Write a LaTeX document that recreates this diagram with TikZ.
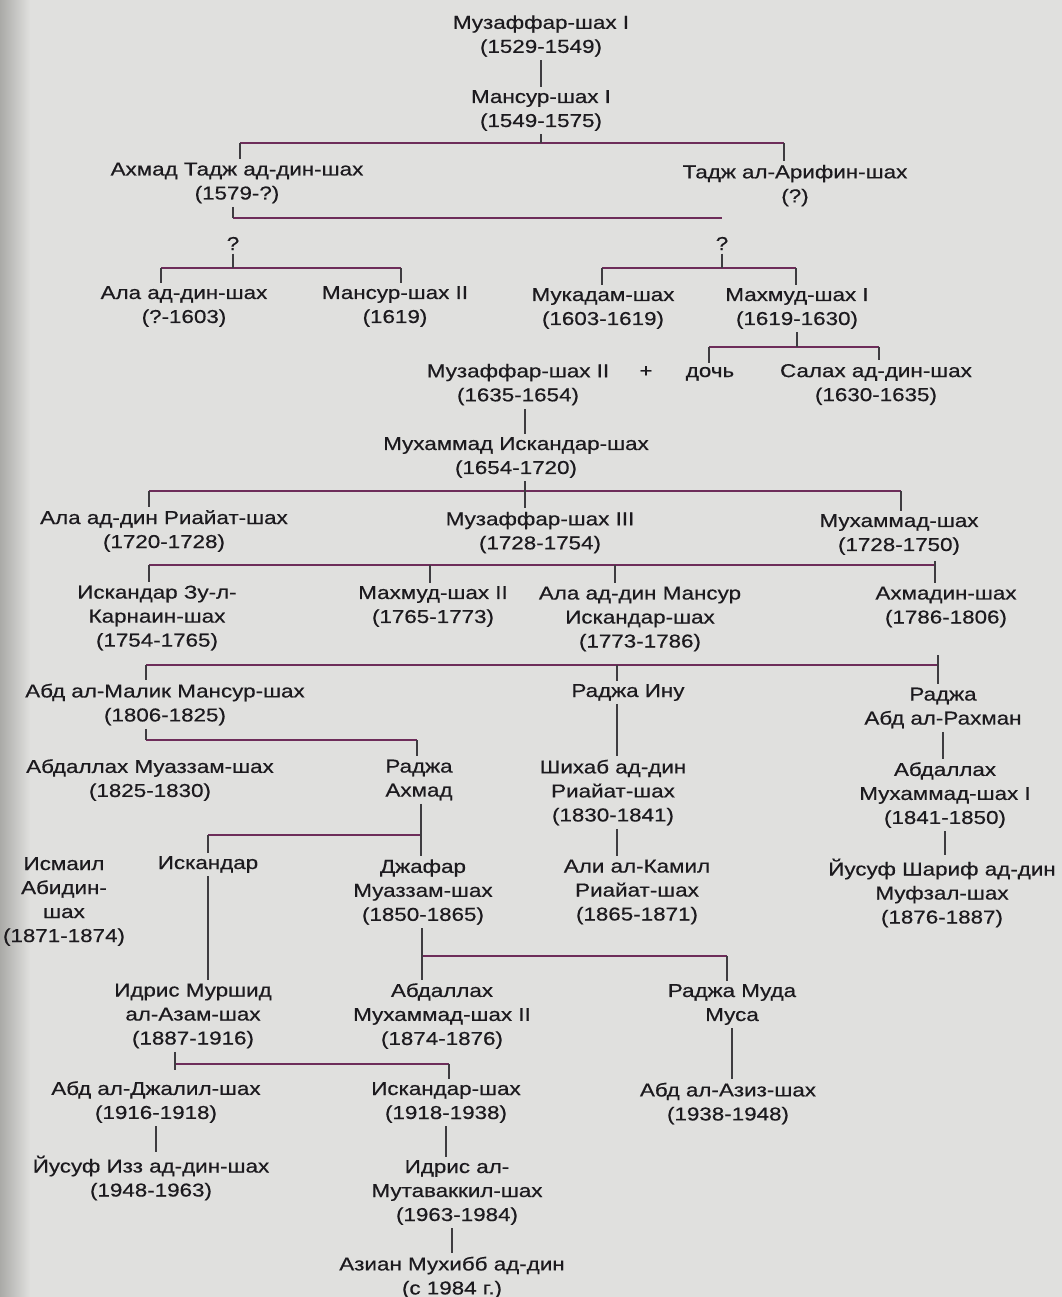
\documentclass[tikz,border=0pt]{standalone}
\usepackage{fontspec}
\setmainfont{Liberation Sans}[FakeStretch=1.2, FakeBold=0.5]
\definecolor{scanbg}{RGB}{224,224,222}
\definecolor{scanedge}{RGB}{170,170,167}
\definecolor{inkcol}{RGB}{28,26,30}
\definecolor{barcol}{RGB}{110,45,90}

\begin{document}
\begin{tikzpicture}[
    x=0.75pt, y=-0.75pt,
    ruler/.style={
        align=center, inner sep=2.5pt, text=inkcol,
        font=\fontsize{14}{18}\selectfont
    },
    % one-line entries are set on their baseline
    oneline/.style={ruler, anchor=base},
    stem/.style={draw=inkcol!85, line width=0.9pt},
    bar/.style={draw=barcol, line width=1.5pt}
]

% === Page ===
\useasboundingbox (0,0) rectangle (1062,1297);
\fill[scanbg] (0,0) rectangle (1062,1297);
\shade[left color=scanedge, right color=scanbg] (0,0) rectangle (30,1297);

% === Nodes ===
\node[ruler] (muzI)    at (541,36)    {Музаффар-шах I\\(1529-1549)};
\node[ruler] (mansurI) at (541,110.5) {Мансур-шах I\\(1549-1575)};

\node[ruler] (ahmadTaj)  at (237,183)   {Ахмад Тадж ад-дин-шах\\(1579-?)};
\node[ruler] (tajArifin) at (795,185.5) {Тадж ал-Арифин-шах\\(?)};

\node[oneline] (qA) at (233,250) {?};
\node[oneline] (qB) at (722,250) {?};

\node[ruler] (alaI)     at (184,306.5) {Ала ад-дин-шах\\(?-1603)};
\node[ruler] (mansurII) at (395,306.5) {Мансур-шах II\\(1619)};
\node[ruler] (mukadam)  at (603,308.5) {Мукадам-шах\\(1603-1619)};
\node[ruler] (mahmudI)  at (797,308.5) {Махмуд-шах I\\(1619-1630)};

\node[ruler]   (muzII) at (518,384.5) {Музаффар-шах II\\(1635-1654)};
\node[oneline] (plus)  at (646,377)   {+};
\node[oneline] (doch)  at (710,377)   {дочь};
\node[ruler]   (salah) at (876,384.5) {Салах ад-дин-шах\\(1630-1635)};

\node[ruler] (muhIsk) at (516,457.5) {Мухаммад Искандар-шах\\(1654-1720)};

\node[ruler] (alaRiayat) at (164,531)   {Ала ад-дин Риайат-шах\\(1720-1728)};
\node[ruler] (muzIII)    at (540,532.5) {Музаффар-шах III\\(1728-1754)};
\node[ruler] (muhShah)   at (899,534.5) {Мухаммад-шах\\(1728-1750)};

\node[ruler] (iskZul)    at (157,618)   {Искандар Зу-л-\\Карнаин-шах\\(1754-1765)};
\node[ruler] (mahmudII)  at (433,606.5) {Махмуд-шах II\\(1765-1773)};
\node[ruler] (alaMansur) at (640,619)   {Ала ад-дин Мансур\\Искандар-шах\\(1773-1786)};
\node[ruler] (ahmadin)   at (946,607)   {Ахмадин-шах\\(1786-1806)};

\node[ruler]   (abdMalik)      at (165,704.5) {Абд ал-Малик Мансур-шах\\(1806-1825)};
\node[oneline] (rajaInu)       at (628,697)   {Раджа Ину};
\node[ruler]   (rajaAbdRahman) at (943,708)   {Раджа\\Абд ал-Рахман};

\node[ruler] (abdMuazzam) at (150,780)   {Абдаллах Муаззам-шах\\(1825-1830)};
\node[ruler] (rajaAhmad)  at (419,780)   {Раджа\\Ахмад};
\node[ruler] (shihab)     at (613,792.5) {Шихаб ад-дин\\Риайат-шах\\(1830-1841)};
\node[ruler] (abdMuhI)    at (945,795)   {Абдаллах\\Мухаммад-шах I\\(1841-1850)};

\node[ruler]   (ismail)      at (64,901.5) {Исмаил\\Абидин-\\шах\\(1871-1874)};
\node[oneline] (iskandar)    at (208,869)  {Искандар};
\node[ruler]   (jafar)       at (423,892)  {Джафар\\Муаззам-шах\\(1850-1865)};
\node[ruler]   (aliKamil)    at (637,892)  {Али ал-Камил\\Риайат-шах\\(1865-1871)};
\node[ruler]   (yusufSharif) at (942,893)  {Йусуф Шариф ад-дин\\Муфзал-шах\\(1876-1887)};

\node[ruler] (idrisMurshid) at (193,1016)   {Идрис Муршид\\ал-Азам-шах\\(1887-1916)};
\node[ruler] (abdMuhII)     at (442,1016)   {Абдаллах\\Мухаммад-шах II\\(1874-1876)};
\node[ruler] (rajaMuda)     at (732,1004.5) {Раджа Муда\\Муса};

\node[ruler] (abdJalil) at (156,1102)   {Абд ал-Джалил-шах\\(1916-1918)};
\node[ruler] (iskShah)  at (446,1102.5) {Искандар-шах\\(1918-1938)};
\node[ruler] (abdAziz)  at (728,1103.5) {Абд ал-Азиз-шах\\(1938-1948)};

\node[ruler] (yusufIzz) at (151,1178)   {Йусуф Изз ад-дин-шах\\(1948-1963)};
\node[ruler] (idrisMut) at (457,1192.5) {Идрис ал-\\Мутаваккил-шах\\(1963-1984)};
\node[ruler] (azlan)    at (452,1277.5) {Азиан Мухибб ад-дин\\(с 1984 г.)};

% ============================================================
% === Bar ends and stem lines
% ============================================================
\coordinate (famA_w) at (240,143);  \coordinate (famA_e) at (784,143);
\coordinate (famB_w) at (233,218);  \coordinate (famB_e) at (722,218);
\coordinate (famC_w) at (161,268);  \coordinate (famC_e) at (401,268);
\coordinate (famD_w) at (602,268);  \coordinate (famD_e) at (796,268);
\coordinate (famE_w) at (709,347);  \coordinate (famE_e) at (879,347);
\coordinate (famF_w) at (149,491);  \coordinate (famF_e) at (901,491);
\coordinate (famG_w) at (149,565);  \coordinate (famG_e) at (935,565);
\coordinate (famH_w) at (146,665);  \coordinate (famH_e) at (938,665);
\coordinate (famI_w) at (146,740);  \coordinate (famI_e) at (417,740);
\coordinate (famJ_w) at (208,835);  \coordinate (famJ_e) at (421,835);
\coordinate (famK_w) at (422,956);  \coordinate (famK_e) at (727,956);
\coordinate (famL_w) at (175,1064); \coordinate (famL_e) at (449,1064);

\coordinate (muz_line)  at (525,0);
\coordinate (mahG_line) at (430,565);
\coordinate (alaG_line) at (615,565);
\coordinate (inu_line)  at (617,0);
\coordinate (inuH_line) at (617,665);
\coordinate (ahmadin_foot) at (938,655);
\coordinate (ahmadin_tick) at (935,561);
\coordinate (idris_tick)   at (175,1070);

% ============================================================
% === Bars
% ============================================================
\foreach \fam in {A,B,C,D,E,F,G,H,I,J,K,L}
    \draw[bar] (fam\fam_w) -- (fam\fam_e);

% ============================================================
% === Stems
% ============================================================
\draw[stem] (muzI) -- (mansurI);

% Mansur I
\draw[stem] (mansurI.south) -- (mansurI.south |- famA_w);
\draw[stem] (famA_w) -- (famA_w |- ahmadTaj.north);
\draw[stem] (famA_e) -- (famA_e |- tajArifin.north);

% Ahmad Taj ad-din
\draw[stem] (ahmadTaj.south -| famB_w) -- (famB_w);
\draw[stem] (qA) -- (qA |- famC_w);
\draw[stem] (qB) -- (qB |- famD_w);
\draw[stem] (famC_w) -- (famC_w |- alaI.north);
\draw[stem] (famC_e) -- (famC_e |- mansurII.north);
\draw[stem] (famD_w) -- (famD_w |- mukadam.north);
\draw[stem] (famD_e) -- (famD_e |- mahmudI.north);

% Mahmud I
\draw[stem] (mahmudI.south) -- (mahmudI.south |- famE_w);
\draw[stem] (famE_w) -- (famE_w |- doch.north);
\draw[stem] (famE_e) -- (famE_e |- salah.north);

% Muzaffar II -- Muhammad Iskandar -- Muzaffar III
\draw[stem] (muzII.south -| muz_line) -- (muhIsk.north -| muz_line);
\draw[stem] (muhIsk.south -| muz_line) -- (muzIII.north -| muz_line);
\draw[stem] (famF_w) -- (famF_w |- alaRiayat.north);
\draw[stem] (famF_e) -- (famF_e |- muhShah.north);

% next generation
\draw[stem] (famG_w) -- (famG_w |- iskZul.north);
\draw[stem] (mahG_line) -- (mahG_line |- mahmudII.north);
\draw[stem] (alaG_line) -- (alaG_line |- alaMansur.north);
\draw[stem] (ahmadin_tick) -- (ahmadin_tick |- ahmadin.north);

% Ahmadin
\draw[stem] (ahmadin_foot) -- (famH_e);
\draw[stem] (famH_w) -- (famH_w |- abdMalik.north);
\draw[stem] (inuH_line) -- (inuH_line |- rajaInu.north);
\draw[stem] (famH_e) -- (famH_e |- rajaAbdRahman.north);

% Abd al-Malik
\draw[stem] (abdMalik.south -| famI_w) -- (famI_w);
\draw[stem] (famI_e) -- (famI_e |- rajaAhmad.north);

% Raja Inu
\draw[stem] (rajaInu.south -| inu_line) -- (shihab.north -| inu_line);
\draw[stem] (shihab.south -| inu_line) -- (aliKamil.north -| inu_line);

% Raja Abd al-Rahman
\draw[stem] (rajaAbdRahman.south) -- (rajaAbdRahman.south |- abdMuhI.north);
\draw[stem] (abdMuhI.south) -- (abdMuhI.south |- yusufSharif.north);

% Raja Ahmad
\draw[stem] (rajaAhmad.south -| famJ_e) -- (jafar.north -| famJ_e);
\draw[stem] (famJ_w) -- (famJ_w |- iskandar.north);
\draw[stem] (iskandar.south) -- (iskandar.south |- idrisMurshid.north);

% Jafar
\draw[stem] (jafar.south -| famK_w) -- (abdMuhII.north -| famK_w);
\draw[stem] (famK_e) -- (famK_e |- rajaMuda.north);
\draw[stem] (rajaMuda.south) -- (rajaMuda.south |- abdAziz.north);

% Idris Murshid
\draw[stem] (idrisMurshid.south -| famL_w) -- (idris_tick);
\draw[stem] (famL_e) -- (famL_e |- iskShah.north);
\draw[stem] (abdJalil.south) -- (abdJalil.south |- yusufIzz.north);
\draw[stem] (iskShah.south) -- (iskShah.south |- idrisMut.north);
\draw[stem] (idrisMut.south -| azlan) -- (azlan.north);

\end{tikzpicture}
\end{document}
